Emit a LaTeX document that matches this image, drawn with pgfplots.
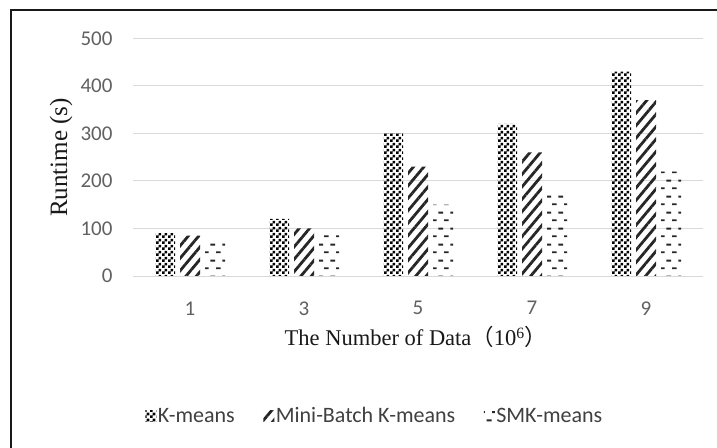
\documentclass[border=0pt]{standalone}
\usepackage{fontspec}
\usepackage{pgfplots}
\pgfplotsset{compat=1.18}
\usetikzlibrary{patterns,patterns.meta}
\newfontfamily\carlito{Carlito}
\newfontfamily\rserif{Liberation Serif}
\newfontfamily\cjk{Noto Sans CJK SC}
\pgfdeclarepatternformonly{mycheck}{\pgfpointorigin}{\pgfqpoint{6bp}{6bp}}{\pgfqpoint{6bp}{6bp}}{%
  \pgfpathrectangle{\pgfpointorigin}{\pgfqpoint{3bp}{3bp}}%
  \pgfpathrectangle{\pgfqpoint{3bp}{3bp}}{\pgfqpoint{3bp}{3bp}}%
  \pgfusepath{fill}}
\pgfdeclarepatternformonly{smkdash}{\pgfpointorigin}{\pgfqpoint{12bp}{16bp}}{\pgfqpoint{12bp}{16bp}}{%
  \pgfsetlinewidth{2bp}%
  \pgfpathmoveto{\pgfqpoint{0bp}{4bp}}\pgfpathlineto{\pgfqpoint{5bp}{4bp}}%
  \pgfpathmoveto{\pgfqpoint{7bp}{12bp}}\pgfpathlineto{\pgfqpoint{12bp}{12bp}}%
  \pgfusepath{stroke}}
\begin{document}
\begin{tikzpicture}
\useasboundingbox (0,0) rectangle (717bp,448bp);
\fill[white] (0,0) rectangle (717bp,448bp);
\begin{axis}[
  at={(133bp,172bp)}, anchor=south west,
  scale only axis, width=570bp, height=237.5bp,
  xmin=-0.5, xmax=4.5, ymin=0, ymax=500,
  ybar=5bp, bar width=20bp,
  xtick={0,1,2,3,4}, xticklabels={1,3,5,7,9},
  ytick={0,100,200,300,400,500},
  axis line style={draw=none}, major tick length=0pt,
  ymajorgrids, grid style={line width=1bp, color=black!15},
  tick label style={font=\carlito\fontsize{21bp}{24bp}\selectfont, text=black!62},
  /pgf/number format/assume math mode=true,
  yticklabel style={xshift=-17bp},
  xticklabel style={yshift=-22bp},
  legend columns=3,
  legend style={draw=none, fill=none, at={(axis description cs:0.4237,-0.5895)}, anchor=center,
    font=\carlito\fontsize{22bp}{26bp}\selectfont, text=black!75,
    nodes={inner sep=1.5bp},
    /tikz/every even column/.append style={column sep=27bp}},
  legend image code/.code={\fill[#1] (0bp,-5.5bp) rectangle (11bp,5.5bp);},
]
\addplot[draw=none, pattern=mycheck, pattern color=black] coordinates {(0,90) (1,120) (2,300) (3,320) (4,430)};
\addplot[draw=none, pattern={Lines[angle=50,distance=8bp,line width=2.8bp]}, pattern color=black!85] coordinates {(0,85) (1,100) (2,230) (3,260) (4,370)};
\addplot[draw=none, pattern=smkdash, pattern color=black!85] coordinates {(0,70) (1,88) (2,150) (3,170) (4,220)};
\legend{K-means, Mini-Batch K-means, SMK-means}
\end{axis}
\node[anchor=base, font=\rserif\fontsize{22.5bp}{27bp}\selectfont, text=black!90] at (416bp,102bp) {The Number of Data{\cjk （}10\textsuperscript{6}{\cjk ）}};
\node[rotate=90, anchor=center, inner sep=0pt, font=\rserif\fontsize{25bp}{30bp}\selectfont, text=black!90] at (61bp,290.5bp) {Runtime (s)};
\draw[line width=2.5bp, black!90] (11bp,-2bp) -- (11bp,438bp) -- (720bp,438bp);
\end{tikzpicture}
\end{document}
